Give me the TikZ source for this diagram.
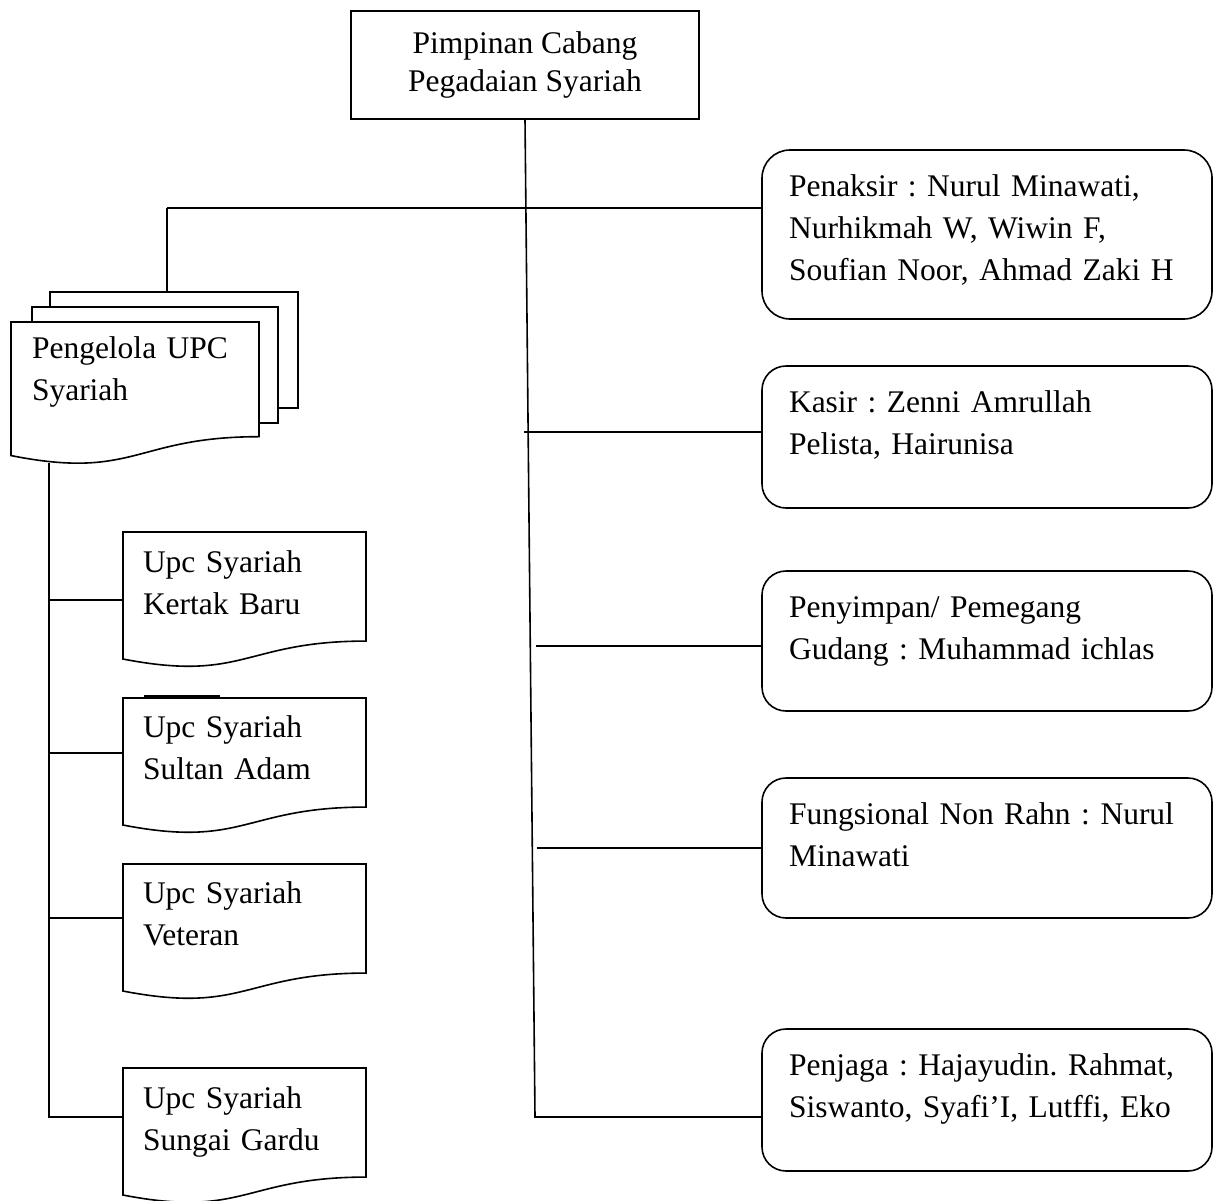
\documentclass[tikz,border=0pt]{standalone}
\usepackage{fontspec}
\setmainfont{Liberation Serif}
\usetikzlibrary{calc}
\tikzset{
  ln/.style={line width=1.6pt, draw=black},
  txt/.style={inner sep=0pt, outer sep=0pt, anchor=base west, align=left, text width=430pt,
    font={\fontsize{31.5}{42}\selectfont\frenchspacing}},
  topbox/.style={ln, rectangle, inner sep=0pt, outer sep=0pt, minimum width=348pt, minimum height=108pt,
    align=center, font={\fontsize{31.5}{38}\selectfont\frenchspacing}},
  rbox/.style={ln, rectangle, inner sep=0pt, outer sep=0pt, minimum width=450pt, anchor=north west},
  docnode/.style={inner sep=0pt, outer sep=0pt, anchor=north west, minimum width=243pt, minimum height=136pt},
  sheet/.style={ln, fill=white, rectangle, inner sep=0pt, outer sep=0pt, anchor=north west, minimum height=116pt}
}
\newcommand\docoutline[2]{%
  \draw[ln, fill=white] (#1.north west) -- (#1.north east) -- ($(#1.north east)+(0,{0.802*#2})$)
    .. controls ($(#1.north)+(0,{0.802*#2})$) and ($(#1.north)+(0,{1.107*#2})$) ..
    ($(#1.north west)+(0,{0.934*#2})$) -- cycle;}
\begin{document}
\frenchspacing
\begin{tikzpicture}[x=1pt,y=-1pt]
\useasboundingbox (0,0) rectangle (1213,1200);
% top box
\node[topbox] (top) at (525,65) {Pimpinan Cabang\\Pegadaian Syariah};
% right rounded boxes
\node[rbox, minimum height=169pt, rounded corners=28pt] (penaksir) at (762,150) {};
\node[rbox, minimum height=142pt, rounded corners=24pt] (kasir) at (762,366) {};
\node[rbox, minimum height=140pt, rounded corners=24pt] (penyimpan) at (762,571) {};
\node[rbox, minimum height=140pt, rounded corners=24pt] (fungsional) at (762,778) {};
\node[rbox, minimum height=142pt, rounded corners=24pt] (penjaga) at (762,1029) {};
\node[txt] (penaksir-t) at (789,196) {Penaksir : Nurul Minawati,\\Nurhikmah W, Wiwin F,\\Soufian Noor, Ahmad Zaki H};
\node[txt] (kasir-t) at (789,412) {Kasir : Zenni Amrullah\\Pelista, Hairunisa};
\node[txt] (penyimpan-t) at (789,617) {Penyimpan/ Pemegang\\Gudang : Muhammad ichlas};
\node[txt] (fungsional-t) at (789,824) {Fungsional Non Rahn : Nurul\\Minawati};
\node[txt] (penjaga-t) at (789,1075) {Penjaga : Hajayudin. Rahmat,\\Siswanto, Syafi'I, Lutffi, Eko};
% multi document
\node[sheet, minimum width=248pt] (back) at (50,292) {};
\node[sheet, minimum width=246pt] (middle) at (32,307) {};
\node[docnode, minimum width=248pt, minimum height=143pt] (pengelola) at (11,322) {};
\docoutline{pengelola}{143}
\node[txt] (pengelola-t) at (32,358) {Pengelola UPC\\Syariah};
% UPC documents
\node[docnode] (kertak) at (123,532) {};
\node[docnode] (sultan) at (123,698) {};
\node[docnode] (veteran) at (123,864) {};
\node[docnode] (sungai) at (123,1068) {};
\docoutline{kertak}{136}
\docoutline{sultan}{136}
\docoutline{veteran}{136}
\docoutline{sungai}{136}
\node[txt] (kertak-t) at (143,572) {Upc Syariah\\Kertak Baru};
\node[txt] (sultan-t) at (143,737) {Upc Syariah\\Sultan Adam};
\node[txt] (veteran-t) at (143,903) {Upc Syariah\\Veteran};
\node[txt] (sungai-t) at (143,1108) {Upc Syariah\\Sungai Gardu};
% stray short line above Sultan Adam
\draw[ln] ($(sultan.north west)+(21,-2)$) -- ($(sultan.north west)+(97,-2)$);
% right trunk
\coordinate (tb) at (535,1117);
\draw[ln] (top.south) -- (tb) -- (tb -| penjaga.west);
\coordinate (j1) at (167,208);
\draw[ln] (j1) -- (j1 -| penaksir.west);
\draw[ln] (j1) -- (j1 |- back.north);
\coordinate (k1) at (524,432);
\draw[ln] (k1) -- (k1 -| kasir.west);
\coordinate (p1) at (536,646);
\draw[ln] (p1) -- (p1 -| penyimpan.west);
\coordinate (f1) at (537,848);
\draw[ln] (f1) -- (f1 -| fungsional.west);
% left trunk
\coordinate (lt) at (49,463);
\coordinate (lb) at (49,1117);
\draw[ln] (lt) -- (lb) -- (lb -| sungai.west);
\coordinate (l1) at (49,600);
\coordinate (l2) at (49,753);
\coordinate (l3) at (49,918);
\draw[ln] (l1) -- (l1 -| kertak.west);
\draw[ln] (l2) -- (l2 -| sultan.west);
\draw[ln] (l3) -- (l3 -| veteran.west);
\end{tikzpicture}
\end{document}
